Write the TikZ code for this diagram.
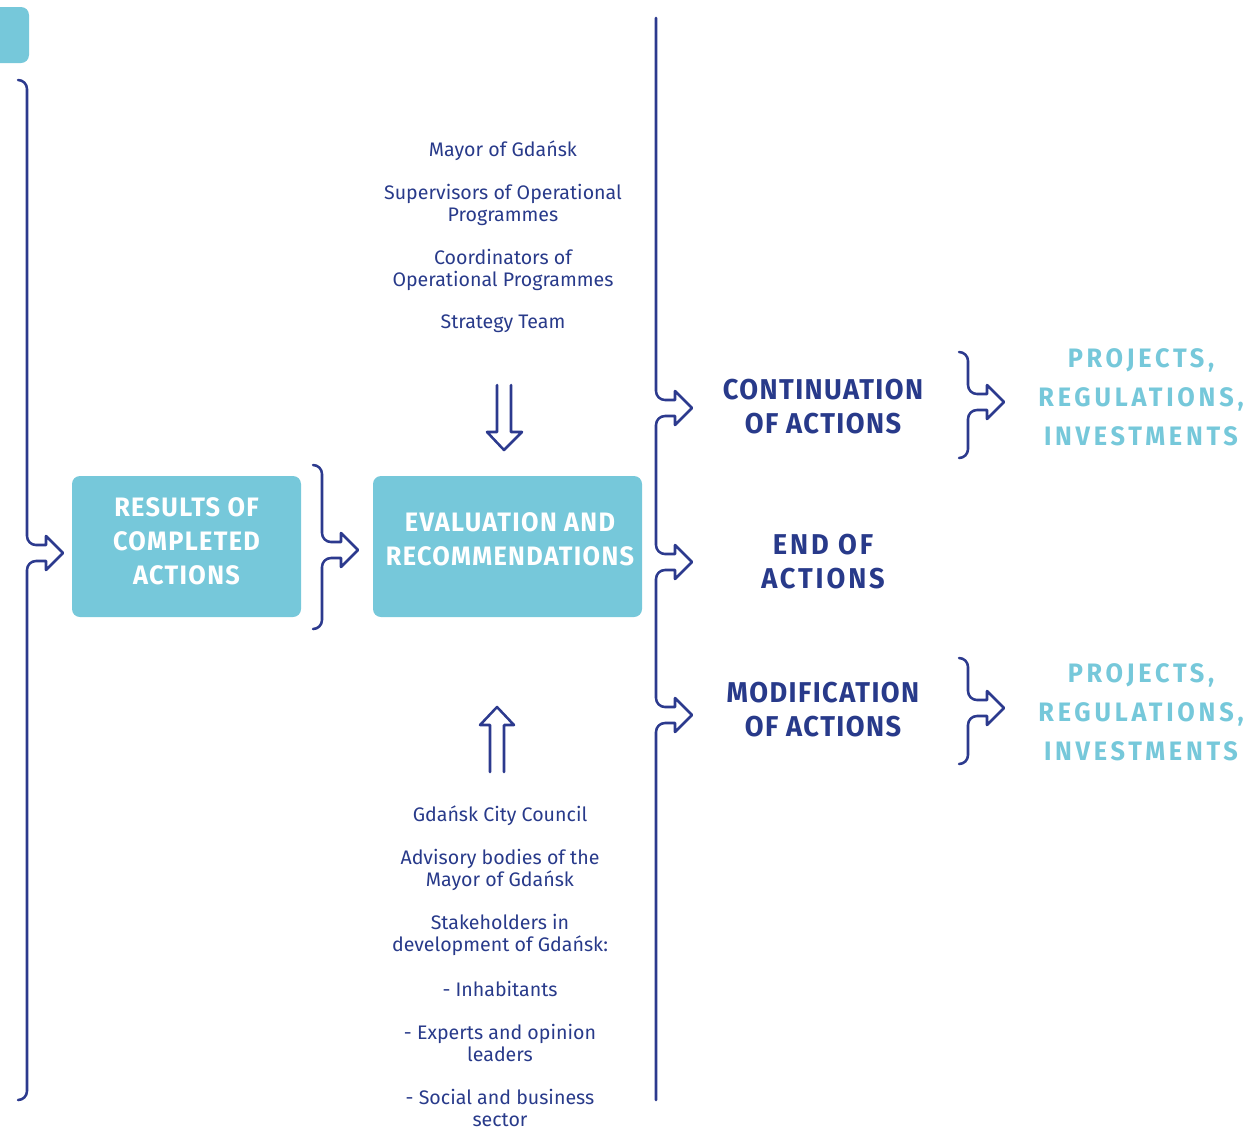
\documentclass[tikz,border=0pt]{standalone}
\usepackage{fontspec}
\setmainfont{Fira Sans}
\newfontfamily\hfont[FakeStretch=0.95,LetterSpace=5]{Fira Sans}
\newfontfamily\efont[FakeStretch=0.95,LetterSpace=10]{Fira Sans}
\newfontfamily\pfont[FakeStretch=0.95,LetterSpace=14]{Fira Sans}
\definecolor{dblue}{HTML}{2C3A8E}
\definecolor{tblue}{HTML}{283A8A}
\definecolor{teal1}{HTML}{76C8DA}
\newcommand\headseg[2]{-- (#1,#2-17) .. controls (#1,#2-12) and (#1+4,#2-8) .. (#1+9,#2-8) -- (#1+19,#2-8) -- (#1+19,#2-17) -- (#1+36,#2) -- (#1+19,#2+17) -- (#1+19,#2+8) -- (#1+9,#2+8) .. controls (#1+4,#2+8) and (#1,#2+12) .. (#1,#2+17)}
\newcommand\brarrow[4]{\draw[ln] (#1-9,#2) .. controls (#1-4,#2) and (#1,#2+4) .. (#1,#2+9) \headseg{#1}{#3} -- (#1,#4-9) .. controls (#1,#4-4) and (#1-4,#4) .. (#1-9,#4);}
\begin{document}
\begin{tikzpicture}[x=0.75pt,y=-0.75pt,
  ln/.style={draw=dblue,line width=1.9pt,line join=round,line cap=round},
  box/.style={fill=teal1,rounded corners=6pt,inner sep=0pt},
  boxtxt/.style={text=white,align=center,font=\hfont\bfseries\fontsize{20}{25.5}\selectfont},
  head/.style={text=tblue,align=center,font=\hfont\bfseries\fontsize{21.5}{25.5}\selectfont},
  prod/.style={text=teal1,align=center,font=\pfont\bfseries\fontsize{20}{29.25}\selectfont},
  small/.style={text=tblue,align=center,font=\fontsize{14.7}{16.5}\selectfont}]
\useasboundingbox (0,0) rectangle (1252,1136);
\fill[teal1,rounded corners=6pt] (-20,7) rectangle (29,63);
% boxes
\node[box,minimum width=171.75pt,minimum height=105.75pt] (b1) at (186.5,546.5) {};
\node[boxtxt] (b1t) at (186.5,541) {RESULTS OF\\COMPLETED\\ACTIONS};
\node[box,minimum width=201.75pt,minimum height=105.75pt] (b2) at (507.5,546.5) {};
\node[boxtxt] (b2t) at (510,539) {EVALUATION AND\\RECOMMENDATIONS};
% outcomes
\node[head] (cont) at (823,407) {CONTINUATION\\OF ACTIONS};
\node[head,font=\efont\bfseries\fontsize{21.5}{25.5}\selectfont] (endact) at (823,562) {END OF\\ACTIONS};
\node[head] (modif) at (823,710) {MODIFICATION\\OF ACTIONS};
\node[prod] (p1) at (1141,397) {PROJECTS,\\REGULATIONS,\\INVESTMENTS};
\node[prod] (p2) at (1141,712) {PROJECTS,\\REGULATIONS,\\INVESTMENTS};
% top actors
\node[small] (t1) at (503,151) {Mayor of Gdańsk};
\node[small] (t2) at (503,205) {Supervisors of Operational\\Programmes};
\node[small] (t3) at (503,270) {Coordinators of\\Operational Programmes};
\node[small] (t4) at (503,324) {Strategy Team};
% bottom actors
\node[small] (u1) at (500,816) {Gdańsk City Council};
\node[small] (u2) at (500,870) {Advisory bodies of the\\Mayor of Gdańsk};
\node[small] (u3) at (500,935) {Stakeholders in\\development of Gdańsk:};
\node[small] (u4) at (500,989) {- Inhabitants};
\node[small] (u5) at (500,1043) {- Experts and opinion\\leaders};
\node[small] (u6) at (500,1108) {- Social and business\\sector};
% brace arrows
\brarrow{27}{80}{553}{1100}
\brarrow{322}{465}{550}{629}
\brarrow{968}{352}{402}{458}
\brarrow{968}{658}{708}{764}
\draw[ln] (656,18) \headseg{656}{408} \headseg{656}{562} \headseg{656}{715} -- (656,1100);
% block arrows
\draw[ln] (497,385) -- (497,432) -- (487,432) -- (504,450) -- (522,432) -- (511,432) -- (511,385);
\draw[ln] (490,772) -- (490,725) -- (480,725) -- (497,707) -- (514,725) -- (504,725) -- (504,772);
\end{tikzpicture}
\end{document}
